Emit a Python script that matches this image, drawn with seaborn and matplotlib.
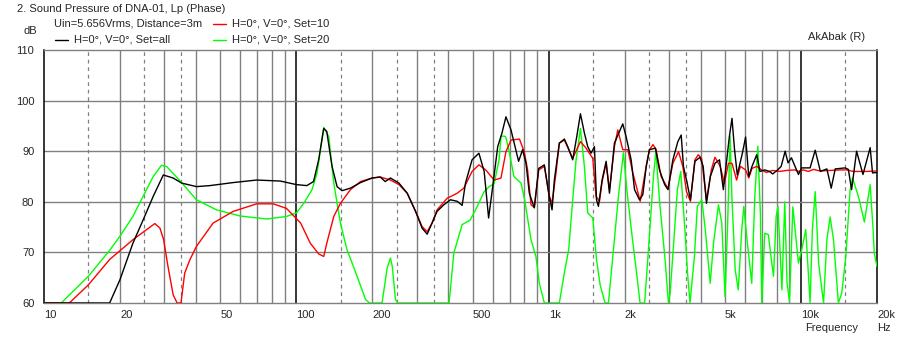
import numpy as np
import pandas as pd
import matplotlib
matplotlib.use('Agg')
import matplotlib.pyplot as plt
import seaborn as sns
from matplotlib.lines import Line2D

# --- data (Hz, dB) ---
black_f = [10, 18.2, 20, 22.5, 24.7, 27.1, 29.7, 32.5, 35.1, 40.2, 45.4, 56.2, 69.6, 86.4, 100, 110, 117,
           122.6, 128.4, 132, 138.5, 145, 151.8, 163.8, 179.6, 199.6, 215, 225, 236, 255, 275, 296.8, 315,
           330, 345, 361, 384, 408, 434, 454, 468, 497, 529, 555, 578, 600, 628, 653, 677, 709, 730, 760,
           788, 813, 838, 877, 913, 961, 1000, 1031, 1053, 1102, 1154, 1190, 1245, 1292, 1336, 1385, 1428,
           1472, 1518, 1547, 1574, 1628, 1689, 1741, 1822, 1896, 1966, 2026, 2122, 2189, 2290, 2360, 2435,
           2507, 2648, 2748, 2881, 2970, 3105, 3250, 3350, 3420, 3528, 3645, 3797, 3975, 4094, 4220, 4372,
           4558, 4752, 4922, 5078, 5200, 5325, 5452, 5590, 5855, 6030, 6206, 6393, 6675, 6873, 7180, 7500,
           7720, 8080, 8340, 8650, 8880, 9160, 9765, 10060, 10860, 11380, 11930, 12660, 13170, 13660,
           14950, 15400, 15860, 16600, 17600, 18790, 19200, 20000]
black_db = [60, 60, 64.6, 71.8, 76.4, 81.1, 85.3, 84.7, 83.7, 83.0, 83.2, 83.8, 84.3, 84.1, 83.4, 83.2, 84,
            88.3, 94.5, 93.9, 87, 83, 82.2, 82.7, 83.8, 84.7, 84.9, 84, 84.7, 83.7, 81.7, 78.1, 74.8,
            73.6, 75.8, 78.1, 79.4, 80.4, 80.1, 79.3, 83.7, 88.3, 89.6, 86, 76.8, 83, 90.9, 93.6, 96.8, 94.2,
            91.6, 88, 90.3, 87.6, 81.7, 78.8, 86.6, 87.3, 81.7, 78.4, 84.3, 91.6, 92.4, 90.9, 88.3, 92.9,
            97.4, 93.6, 90.9, 89.6, 90.9, 80.4, 79.1, 84.3, 88, 81.7, 91.6, 93.6, 95.4, 92.9, 88.3, 82.4,
            80.4, 81.4, 87, 90.3, 90.6, 86.3, 83.4, 82.4, 88.3, 91.9, 93.2, 87, 84, 80.4, 88, 88.8, 87,
            79.7, 85, 87.6, 88.3, 82.4, 88.3, 92.9, 96.5, 90.3, 85.3, 89.6, 92.8, 85, 87, 89.3, 86, 86.3,
            86, 85.5, 86.3, 87, 90, 87.7, 88.7, 85.4, 86.7, 86.7, 90.2, 86, 86.5, 82.7, 86.5,
            86.7, 86.4, 82.4, 90, 85.4, 90.7, 85.7, 85.8]

red_f = [10, 12.6, 15, 18.2, 22.5, 27.5, 28.8, 29.8, 31, 32.5, 33.7, 34.9, 36.1, 37.9, 40.2, 46.8, 56.2,
         69.6, 81, 91.4, 104, 113.6, 122.6, 128.4, 132, 140.7, 149.5, 163.8, 179.6, 199.6, 215, 236, 255,
         275, 297, 315, 330, 345, 361, 396, 434, 461, 497, 529, 563, 608, 647, 677, 709, 766, 800, 825, 851,
         877, 913, 961, 1006, 1031, 1069, 1102, 1154, 1245, 1336, 1406, 1495, 1540, 1590, 1628, 1689, 1741,
         1822, 1878, 1966, 2058, 2155, 2305, 2435, 2507, 2590, 2665, 2790, 2970, 3105, 3270, 3400, 3517,
         3645, 3797, 3915, 4034, 4220, 4410, 4558, 4783, 4970, 5155, 5325, 5555, 5750, 6030, 6206, 6393,
         6675, 6975, 7290, 7720, 8210, 8780, 9470, 9760, 10210, 10690, 11180, 11900, 13030, 14280, 15170,
         16110, 18200, 20000]
red_db = [60, 60, 63.6, 68.6, 72.5, 75.7, 74.8, 72.5, 67.2, 61.6, 60, 60, 65.9, 68.6, 71.2, 75.8, 78.1,
          79.6, 79.6, 78.7, 75.8, 71.8, 69.7, 69.2, 71.8, 77.1, 79.7, 82.4, 84, 84.7, 84.9, 84.3, 83.4,
          81.7, 78.1, 75.1, 74.1, 75.8, 78.4, 80.7, 81.7, 82.7, 86, 87.3, 86.3, 84.3, 84.7, 89.9, 92.2, 92.4,
          89.9, 86.3, 79.4, 78.9, 86.3, 87, 81.1, 79.7, 85.7, 91.6, 92.2, 88.6, 91.9, 90.6, 88.6, 81.1,
          80.1, 84, 87.6, 82.4, 90.9, 94.2, 90.3, 90.3, 85.7, 80.1, 87, 90.3, 91.3, 90.3, 85, 82.6, 87.6,
          89.9, 87, 82, 80.1, 88.3, 89.3, 88.6, 80.4, 86.3, 88.8, 87, 83.7, 87.6, 87.6, 84.3, 87, 86.3,
          84.7, 86.6, 87, 86.3, 85.8, 86.2, 86, 86.2, 86.3, 86, 86.3, 86, 86.4, 86.1, 86.2, 86.3, 86.3,
          86, 86, 86.1]

green_f = [10, 11.7, 15, 18.2, 20, 22.5, 24.7, 27.1, 29.2, 30.6, 35.1, 40.2, 48.3, 59.8, 76.3, 91.4, 100,
           107, 115.4, 120.8, 128.4, 134.4, 140.7, 149.5, 158.8, 174, 188, 195, 218.6, 229, 236, 240, 247,
           252, 403, 421, 454, 489, 521, 555, 581, 608, 636, 647, 660, 675, 697, 728, 777, 803, 851, 890,
           918, 961, 1102, 1154, 1200, 1245, 1284, 1336, 1385, 1428, 1495, 1547, 1599, 1673, 1725, 1805,
           1890, 1978, 2040, 2134, 2230, 2302, 2400, 2485, 2601, 2660, 2747, 2893, 2982, 3030, 3120, 3236,
           3337, 3473, 3550, 3631, 3780, 3881, 4044, 4175, 4365, 4500, 4707, 4852, 5000, 5110, 5236, 5320,
           5483, 5640, 5823, 5930, 6110, 6378, 6560, 6742, 6900, 6990, 7120, 7180, 7420, 7600, 7780, 7970,
           8100, 8400, 8620, 8800, 9000, 9280, 9765, 10060, 10440, 10860, 11090, 11380, 11740, 12280,
           12660, 13040, 13450, 14060, 14500, 15050, 15640, 16000, 16890, 17830, 18790, 19300, 19500,
           20000]
green_db = [60, 60, 65.3, 70.4, 73.2, 77.1, 81.1, 85, 87.2, 87, 83.8, 80.4, 78.4, 77.2, 76.6, 77.1, 77.8,
            79.7, 82.4, 85.7, 94.7, 92.9, 83.7, 75.8, 70.5, 65.3, 60.7, 60, 60, 66.9, 68.9, 67.2, 60.7,
            60, 60, 69.9, 75.5, 76.4, 79.1, 82, 83, 83.6, 88.3, 92.9, 93, 92.9, 90, 85, 83.7, 80.4, 72.5,
            69.2, 63.9, 60, 60, 66, 70.5, 80.4, 88.3, 94.5, 87, 77.8, 76.8, 68.6, 63.6, 60, 60, 70.5,
            81.1, 89.7, 82.4, 73.8, 65.9, 60, 60, 70.5, 85, 90, 80.4, 68.5, 60, 62, 71.2, 82.4,
            86, 73.8, 65.9, 60, 69.2, 79.1, 80.4, 74.5, 63.9, 71.8, 79.4, 75.8, 61.3, 74.5, 93, 81.1,
            66.6, 62.6, 74.5, 79.1, 72.5, 63.9, 81.1, 91, 77.8, 60, 69.2, 73.8, 73.5, 69.2, 65.3, 77.1,
            79.1, 62.6, 80, 64, 60.3, 79, 67.9, 70.5, 74.5, 60, 74.5, 82, 67.9, 60,
            72.5, 77, 72.5, 60, 62, 69.2, 82.3, 84.7, 81, 76, 83.4, 74.5, 69.9,
            67.2]

xtick_vals = [10, 20, 50, 100, 200, 500, 1000, 2000, 5000, 10000, 20000]
xtick_labels = ['10', '20', '50', '100', '200', '500', '1k', '2k', '5k', '10k', '20k']
ytick_vals = [60, 70, 80, 90, 100, 110]

sns.set_style('white')
plt.rcParams['font.family'] = ['Liberation Sans', 'DejaVu Sans']
plt.rcParams['font.size'] = 8

fig = plt.figure(figsize=(9, 3.4), dpi=100)
ax = fig.add_axes([44 / 900, 1 - 303 / 340, (877 - 44) / 900, (303 - 50) / 340])
ax.set_xscale('log')
ax.set_xlim(10, 20000)
ax.set_ylim(60, 110)

# grid: solid grey at 2..9 x decade, dashed at 1.5, 2.5, 3.5
for dec in [10, 100, 1000, 10000]:
    for m in [2, 3, 4, 5, 6, 7, 8, 9]:
        f = m * dec
        if f < 20000:
            ax.axvline(f, color='#808080', lw=1, zorder=1)
    for m in [1.5, 2.5, 3.5]:
        f = m * dec
        if f < 20000:
            ax.axvline(f, color='#808080', lw=0.9, ls=(0, (3, 3)), zorder=1)
for dec in [100, 1000, 10000]:
    ax.axvline(dec, color='black', lw=1.1, zorder=1)
for y in [70, 80, 90, 100]:
    ax.axhline(y, color='#808080', lw=1, zorder=1)

sns.lineplot(x=green_f, y=green_db, color='#00ff00', lw=1, sort=False, ax=ax, zorder=3)
sns.lineplot(x=red_f, y=red_db, color='#ff0000', lw=1, sort=False, ax=ax, zorder=4)
sns.lineplot(x=black_f, y=black_db, color='black', lw=1, sort=False, ax=ax, zorder=5)

for side in ['top', 'bottom']:
    ax.spines[side].set_color('#808080')
    ax.spines[side].set_linewidth(1)
for side in ['left', 'right']:
    ax.spines[side].set_color('black')
    ax.spines[side].set_linewidth(1.1)

ax.set_xticks(xtick_vals)
ax.set_xticklabels(xtick_labels, ha='left')
ax.xaxis.set_minor_locator(matplotlib.ticker.NullLocator())
ax.set_yticks(ytick_vals)
ax.tick_params(axis='x', length=3, width=1, color='black', pad=2, labelsize=8)
ax.tick_params(axis='y', length=4, width=1, color='black', pad=3, labelsize=8)
ax.set_xlabel('')
ax.set_ylabel('')

# header texts and legend
fig.text(17 / 900, 1 - 9 / 340, '2. Sound Pressure of DNA-01, Lp (Phase)', va='center', ha='left', fontsize=8)
fig.text(54 / 900, 1 - 24 / 340, 'Uin=5.656Vrms, Distance=3m', va='center', ha='left', fontsize=8)
fig.text(24 / 900, 1 - 31 / 340, 'dB', va='center', ha='left', fontsize=8)
fig.text(808 / 900, 1 - 37 / 340, 'AkAbak (R)', va='center', ha='left', fontsize=8)
fig.text(805 / 900, 1 - 328 / 340, 'Frequency', va='center', ha='left', fontsize=8)
fig.text(877 / 900, 1 - 328 / 340, 'Hz', va='center', ha='left', fontsize=8)

legend_items = [(55, 40, 'black', 'H=0°, V=0°, Set=all'),
                (213, 24, '#ff0000', 'H=0°, V=0°, Set=10'),
                (213, 40, '#00ff00', 'H=0°, V=0°, Set=20')]
for lx, ly, c, txt in legend_items:
    fig.add_artist(Line2D([lx / 900, (lx + 13) / 900], [1 - ly / 340, 1 - ly / 340],
                          color=c, lw=1, transform=fig.transFigure))
    fig.text((lx + 19) / 900, 1 - ly / 340, txt, va='center', ha='left', fontsize=8)

fig.savefig('out.png', dpi=100)
